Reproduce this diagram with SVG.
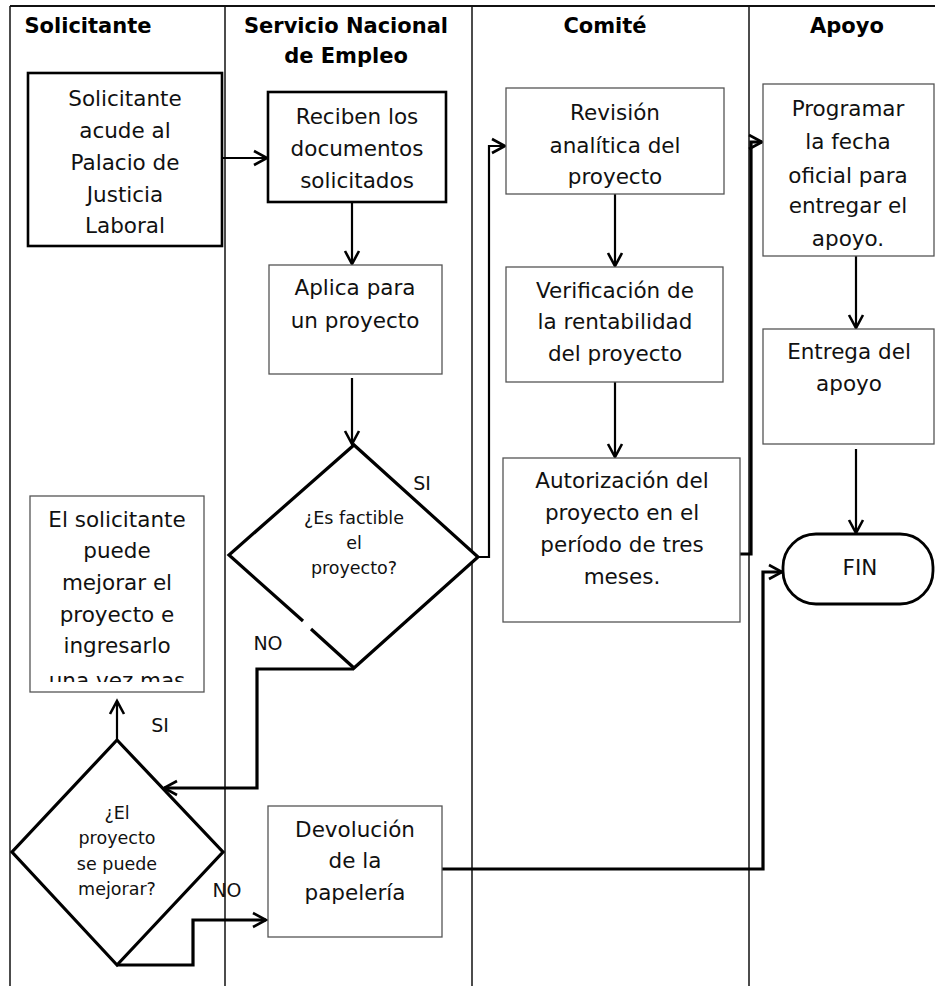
<svg xmlns="http://www.w3.org/2000/svg" width="935" height="986" viewBox="0 0 935 986">
<style>
.lane{stroke:#111;stroke-width:1.5;fill:none}
.hdr{font-family:"DejaVu Sans",sans-serif;font-weight:bold;font-size:21px;fill:#000;text-anchor:middle}
.t{font-family:"DejaVu Sans",sans-serif;font-size:21.5px;fill:#111;text-anchor:middle}
.s{font-family:"DejaVu Sans",sans-serif;font-size:17.5px;fill:#111;text-anchor:middle}
.lbl{font-family:"DejaVu Sans",sans-serif;font-size:19px;fill:#111;text-anchor:middle}
.bx{fill:#fff;stroke:#555;stroke-width:1.3}
.bxk{fill:#fff;stroke:#000;stroke-width:2.6}
.dm{fill:#fff;stroke:#000;stroke-width:3.2;stroke-linejoin:miter}
.c{fill:none;stroke:#000;stroke-width:2.2;marker-end:url(#ah)}
.ck{fill:none;stroke:#000;stroke-width:3.2;marker-end:url(#ah)}
</style>
<defs>
<marker id="ah" markerUnits="userSpaceOnUse" markerWidth="20" markerHeight="20" viewBox="0 0 20 20" refX="14" refY="10" orient="auto">
<path d="M1,3 L14,10 L1,17" fill="none" stroke="#000" stroke-width="2.6"/>
</marker>
<clipPath id="clipSol"><rect x="30" y="496" width="174" height="186"/></clipPath>
</defs>
<rect x="0" y="0" width="935" height="986" fill="#fff"/>
<g id="lanes">
<line class="lane" x1="10" y1="6" x2="935" y2="6" style="stroke-width:2.2"/>
<line class="lane" x1="10" y1="6" x2="10" y2="986"/>
<line class="lane" x1="225" y1="6" x2="225" y2="986"/>
<line class="lane" x1="472" y1="6" x2="472" y2="986"/>
<line class="lane" x1="749" y1="6" x2="749" y2="986"/>
<text class="hdr" x="88" y="33">Solicitante</text>
<text class="hdr" x="346" y="33">Servicio Nacional</text>
<text class="hdr" x="346" y="63">de Empleo</text>
<text class="hdr" x="605" y="33">Comité</text>
<text class="hdr" x="847" y="33">Apoyo</text>
</g>
<g id="connectors">
<path class="c" d="M222,158 L267,158"/>
<path class="c" d="M352,202 L352,264"/>
<path class="c" d="M352,378 L352,444"/>
<path class="c" d="M478,557 L489,557 L489,146 L505,146"/>
<path class="c" d="M615,194 L615,266"/>
<path class="c" d="M615,382 L615,457"/>
<path class="ck" d="M727,554 L751,554 L751,142 L762,142"/>
<path class="c" d="M856,256 L856,328"/>
<path class="c" d="M856,449 L856,533"/>
<path class="ck" d="M354,669 L257,669 L257,788 L164,788"/>
<path class="c" d="M117,740 L117,701"/>
<path class="ck" d="M117,965 L193,965 L193,920 L266,920"/>
<path class="ck" d="M442,869 L763,869 L763,572 L782,572"/>
<text class="lbl" x="422" y="490">SI</text>
<text class="lbl" x="268" y="650">NO</text>
<text class="lbl" x="160" y="732">SI</text>
<text class="lbl" x="227" y="897">NO</text>
</g>
<g id="n-solicitante">
<rect class="bxk" x="28" y="73" width="194" height="173"/>
<text class="t" x="125" y="106">Solicitante</text>
<text class="t" x="125" y="138">acude al</text>
<text class="t" x="125" y="170">Palacio de</text>
<text class="t" x="125" y="202">Justicia</text>
<text class="t" x="125" y="233">Laboral</text>
</g>
<g id="n-reciben">
<rect class="bxk" x="268" y="92" width="178" height="110"/>
<text class="t" x="357" y="124">Reciben los</text>
<text class="t" x="357" y="156">documentos</text>
<text class="t" x="357" y="188">solicitados</text>
</g>
<g id="n-aplica">
<rect class="bx" x="269" y="265" width="173" height="109"/>
<text class="t" x="355" y="295">Aplica para</text>
<text class="t" x="355" y="328">un proyecto</text>
</g>
<g id="n-factible">
<path class="dm" d="M303,621 L229,555 L354,445 L478,557 L354,668 L311,629"/>
<text class="s" x="354" y="524">¿Es factible</text>
<text class="s" x="354" y="549">el</text>
<text class="s" x="354" y="574">proyecto?</text>
</g>
<g id="n-mejorar-texto">
<rect class="bx" x="30" y="496" width="174" height="196"/>
<g clip-path="url(#clipSol)">
<text class="t" x="117" y="527">El solicitante</text>
<text class="t" x="117" y="558">puede</text>
<text class="t" x="117" y="590">mejorar el</text>
<text class="t" x="117" y="622">proyecto e</text>
<text class="t" x="117" y="653">ingresarlo</text>
<text class="t" x="117" y="688">una vez mas</text>
</g>
</g>
<g id="n-mejorar">
<path class="dm" d="M117,740 L223,852 L117,965 L12,852 Z"/>
<text class="s" x="117" y="819">¿El</text>
<text class="s" x="117" y="844">proyecto</text>
<text class="s" x="117" y="870">se puede</text>
<text class="s" x="117" y="895">mejorar?</text>
</g>
<g id="n-devolucion">
<rect class="bx" x="268" y="806" width="174" height="131"/>
<text class="t" x="355" y="837">Devolución</text>
<text class="t" x="355" y="868">de la</text>
<text class="t" x="355" y="900">papelería</text>
</g>
<g id="n-revision">
<rect class="bx" x="506" y="88" width="218" height="106"/>
<text class="t" x="615" y="120">Revisión</text>
<text class="t" x="615" y="153">analítica del</text>
<text class="t" x="615" y="184">proyecto</text>
</g>
<g id="n-verificacion">
<rect class="bx" x="506" y="267" width="217" height="115"/>
<text class="t" x="615" y="298">Verificación de</text>
<text class="t" x="615" y="329">la rentabilidad</text>
<text class="t" x="615" y="361">del proyecto</text>
</g>
<g id="n-autorizacion">
<rect class="bx" x="503" y="458" width="237" height="164"/>
<text class="t" x="622" y="488">Autorización del</text>
<text class="t" x="622" y="520">proyecto en el</text>
<text class="t" x="622" y="552">período de tres</text>
<text class="t" x="622" y="584">meses.</text>
</g>
<g id="n-programar">
<rect class="bx" x="763" y="84" width="171" height="172"/>
<text class="t" x="848" y="116">Programar</text>
<text class="t" x="848" y="149">la fecha</text>
<text class="t" x="848" y="183">oficial para</text>
<text class="t" x="848" y="213">entregar el</text>
<text class="t" x="848" y="246">apoyo.</text>
</g>
<g id="n-entrega">
<rect class="bx" x="763" y="329" width="171" height="115"/>
<text class="t" x="849" y="359">Entrega del</text>
<text class="t" x="849" y="391">apoyo</text>
</g>
<g id="n-fin">
<rect x="783" y="534" width="150" height="70" rx="33" ry="33" fill="#fff" stroke="#000" stroke-width="2.8"/>
<text class="t" x="860" y="575">FIN</text>
</g>
</svg>
